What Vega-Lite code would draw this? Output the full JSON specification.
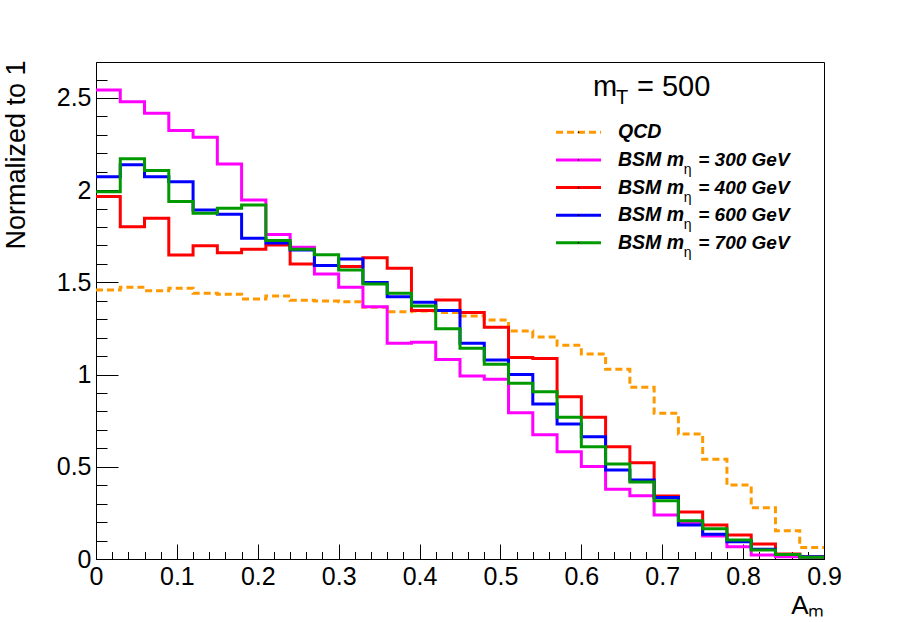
{
  "$schema": "https://vega.github.io/schema/vega-lite/v6.json",
  "width": 728,
  "height": 497,
  "autosize": {"type": "none"},
  "padding": {"left": 96, "top": 62, "right": 89, "bottom": 63},
  "background": "white",
  "config": {
    "view": {"stroke": "black", "strokeWidth": 1},
    "font": "Liberation Sans",
    "axis": {
      "grid": false,
      "domainColor": "black",
      "tickColor": "black",
      "labelColor": "black",
      "titleColor": "black",
      "labelFont": "Liberation Sans",
      "titleFont": "Liberation Sans",
      "titleFontWeight": "normal",
      "labelFontSize": 25,
      "titleFontSize": 26,
      "labelFlush": false,
      "labelOverlap": false
    }
  },
  "datasets": {
    "hist": [
      {"s": "QCD", "x": 0.00, "v": 1.459}, {"s": "QCD", "x": 0.03, "v": 1.473}, {"s": "QCD", "x": 0.06, "v": 1.455},
      {"s": "QCD", "x": 0.09, "v": 1.468}, {"s": "QCD", "x": 0.12, "v": 1.441}, {"s": "QCD", "x": 0.15, "v": 1.436},
      {"s": "QCD", "x": 0.18, "v": 1.410}, {"s": "QCD", "x": 0.21, "v": 1.426}, {"s": "QCD", "x": 0.24, "v": 1.403},
      {"s": "QCD", "x": 0.27, "v": 1.399}, {"s": "QCD", "x": 0.30, "v": 1.395}, {"s": "QCD", "x": 0.33, "v": 1.365},
      {"s": "QCD", "x": 0.36, "v": 1.341}, {"s": "QCD", "x": 0.39, "v": 1.345}, {"s": "QCD", "x": 0.42, "v": 1.336},
      {"s": "QCD", "x": 0.45, "v": 1.318}, {"s": "QCD", "x": 0.48, "v": 1.296}, {"s": "QCD", "x": 0.51, "v": 1.237},
      {"s": "QCD", "x": 0.54, "v": 1.204}, {"s": "QCD", "x": 0.57, "v": 1.159}, {"s": "QCD", "x": 0.60, "v": 1.112},
      {"s": "QCD", "x": 0.63, "v": 1.029}, {"s": "QCD", "x": 0.66, "v": 0.931}, {"s": "QCD", "x": 0.69, "v": 0.790},
      {"s": "QCD", "x": 0.72, "v": 0.678}, {"s": "QCD", "x": 0.75, "v": 0.541}, {"s": "QCD", "x": 0.78, "v": 0.401},
      {"s": "QCD", "x": 0.81, "v": 0.278}, {"s": "QCD", "x": 0.84, "v": 0.153}, {"s": "QCD", "x": 0.87, "v": 0.063},
      {"s": "QCD", "x": 0.90, "v": 0.063},

      {"s": "300", "x": 0.00, "v": 2.543}, {"s": "300", "x": 0.03, "v": 2.480}, {"s": "300", "x": 0.06, "v": 2.417},
      {"s": "300", "x": 0.09, "v": 2.323}, {"s": "300", "x": 0.12, "v": 2.287}, {"s": "300", "x": 0.15, "v": 2.142},
      {"s": "300", "x": 0.18, "v": 1.947}, {"s": "300", "x": 0.21, "v": 1.759}, {"s": "300", "x": 0.24, "v": 1.690},
      {"s": "300", "x": 0.27, "v": 1.546}, {"s": "300", "x": 0.30, "v": 1.473}, {"s": "300", "x": 0.33, "v": 1.368},
      {"s": "300", "x": 0.36, "v": 1.170}, {"s": "300", "x": 0.39, "v": 1.175}, {"s": "300", "x": 0.42, "v": 1.082},
      {"s": "300", "x": 0.45, "v": 0.992}, {"s": "300", "x": 0.48, "v": 0.975}, {"s": "300", "x": 0.51, "v": 0.793},
      {"s": "300", "x": 0.54, "v": 0.674}, {"s": "300", "x": 0.57, "v": 0.582}, {"s": "300", "x": 0.60, "v": 0.501},
      {"s": "300", "x": 0.63, "v": 0.378}, {"s": "300", "x": 0.66, "v": 0.343}, {"s": "300", "x": 0.69, "v": 0.239},
      {"s": "300", "x": 0.72, "v": 0.193}, {"s": "300", "x": 0.75, "v": 0.125}, {"s": "300", "x": 0.78, "v": 0.067},
      {"s": "300", "x": 0.81, "v": 0.022}, {"s": "300", "x": 0.84, "v": 0.012}, {"s": "300", "x": 0.87, "v": 0.009},
      {"s": "300", "x": 0.90, "v": 0.009},

      {"s": "400", "x": 0.00, "v": 1.965}, {"s": "400", "x": 0.03, "v": 1.802}, {"s": "400", "x": 0.06, "v": 1.848},
      {"s": "400", "x": 0.09, "v": 1.649}, {"s": "400", "x": 0.12, "v": 1.699}, {"s": "400", "x": 0.15, "v": 1.661},
      {"s": "400", "x": 0.18, "v": 1.680}, {"s": "400", "x": 0.21, "v": 1.703}, {"s": "400", "x": 0.24, "v": 1.600},
      {"s": "400", "x": 0.27, "v": 1.591}, {"s": "400", "x": 0.30, "v": 1.586}, {"s": "400", "x": 0.33, "v": 1.634},
      {"s": "400", "x": 0.36, "v": 1.576}, {"s": "400", "x": 0.39, "v": 1.347}, {"s": "400", "x": 0.42, "v": 1.405},
      {"s": "400", "x": 0.45, "v": 1.336}, {"s": "400", "x": 0.48, "v": 1.256}, {"s": "400", "x": 0.51, "v": 1.093},
      {"s": "400", "x": 0.54, "v": 1.087}, {"s": "400", "x": 0.57, "v": 0.880}, {"s": "400", "x": 0.60, "v": 0.768},
      {"s": "400", "x": 0.63, "v": 0.609}, {"s": "400", "x": 0.66, "v": 0.522}, {"s": "400", "x": 0.69, "v": 0.342},
      {"s": "400", "x": 0.72, "v": 0.255}, {"s": "400", "x": 0.75, "v": 0.184}, {"s": "400", "x": 0.78, "v": 0.130},
      {"s": "400", "x": 0.81, "v": 0.081}, {"s": "400", "x": 0.84, "v": 0.027}, {"s": "400", "x": 0.87, "v": 0.012},
      {"s": "400", "x": 0.90, "v": 0.012},

      {"s": "600", "x": 0.00, "v": 2.073}, {"s": "600", "x": 0.03, "v": 2.138}, {"s": "600", "x": 0.06, "v": 2.073},
      {"s": "600", "x": 0.09, "v": 2.046}, {"s": "600", "x": 0.12, "v": 1.893}, {"s": "600", "x": 0.15, "v": 1.869},
      {"s": "600", "x": 0.18, "v": 1.739}, {"s": "600", "x": 0.21, "v": 1.714}, {"s": "600", "x": 0.24, "v": 1.676},
      {"s": "600", "x": 0.27, "v": 1.591}, {"s": "600", "x": 0.30, "v": 1.627}, {"s": "600", "x": 0.33, "v": 1.500},
      {"s": "600", "x": 0.36, "v": 1.422}, {"s": "600", "x": 0.39, "v": 1.392}, {"s": "600", "x": 0.42, "v": 1.347},
      {"s": "600", "x": 0.45, "v": 1.170}, {"s": "600", "x": 0.48, "v": 1.079}, {"s": "600", "x": 0.51, "v": 1.000},
      {"s": "600", "x": 0.54, "v": 0.841}, {"s": "600", "x": 0.57, "v": 0.732}, {"s": "600", "x": 0.60, "v": 0.663},
      {"s": "600", "x": 0.63, "v": 0.483}, {"s": "600", "x": 0.66, "v": 0.428}, {"s": "600", "x": 0.69, "v": 0.334},
      {"s": "600", "x": 0.72, "v": 0.184}, {"s": "600", "x": 0.75, "v": 0.134}, {"s": "600", "x": 0.78, "v": 0.094},
      {"s": "600", "x": 0.81, "v": 0.053}, {"s": "600", "x": 0.84, "v": 0.025}, {"s": "600", "x": 0.87, "v": 0.012},
      {"s": "600", "x": 0.90, "v": 0.012},

      {"s": "700", "x": 0.00, "v": 1.992}, {"s": "700", "x": 0.03, "v": 2.171}, {"s": "700", "x": 0.06, "v": 2.106},
      {"s": "700", "x": 0.09, "v": 1.938}, {"s": "700", "x": 0.12, "v": 1.875}, {"s": "700", "x": 0.15, "v": 1.902},
      {"s": "700", "x": 0.18, "v": 1.920}, {"s": "700", "x": 0.21, "v": 1.727}, {"s": "700", "x": 0.24, "v": 1.680},
      {"s": "700", "x": 0.27, "v": 1.650}, {"s": "700", "x": 0.30, "v": 1.567}, {"s": "700", "x": 0.33, "v": 1.491},
      {"s": "700", "x": 0.36, "v": 1.441}, {"s": "700", "x": 0.39, "v": 1.372}, {"s": "700", "x": 0.42, "v": 1.248},
      {"s": "700", "x": 0.45, "v": 1.143}, {"s": "700", "x": 0.48, "v": 1.056}, {"s": "700", "x": 0.51, "v": 0.953},
      {"s": "700", "x": 0.54, "v": 0.907}, {"s": "700", "x": 0.57, "v": 0.768}, {"s": "700", "x": 0.60, "v": 0.609},
      {"s": "700", "x": 0.63, "v": 0.515}, {"s": "700", "x": 0.66, "v": 0.418}, {"s": "700", "x": 0.69, "v": 0.316},
      {"s": "700", "x": 0.72, "v": 0.208}, {"s": "700", "x": 0.75, "v": 0.164}, {"s": "700", "x": 0.78, "v": 0.103},
      {"s": "700", "x": 0.81, "v": 0.049}, {"s": "700", "x": 0.84, "v": 0.025}, {"s": "700", "x": 0.87, "v": 0.009},
      {"s": "700", "x": 0.90, "v": 0.009}
    ]
  },
  "resolve": {"axis": {"x": "independent", "y": "independent"}},
  "layer": [
    {
      "data": {"name": "hist"},
      "mark": {"type": "line", "interpolate": "step-after", "strokeWidth": 3},
      "encoding": {
        "x": {
          "field": "x", "type": "quantitative",
          "scale": {"domain": [0, 0.9], "nice": false, "zero": false},
          "axis": {
            "orient": "bottom",
            "values": [0, 0.1, 0.2, 0.3, 0.4, 0.5, 0.6, 0.7, 0.8, 0.9],
            "format": "~g",
            "tickSize": -15,
            "labelPadding": 20,
            "title": "Aₘ",
            "titleAnchor": "end",
            "titleAlign": "right",
            "titleBaseline": "alphabetic",
            "titleX": 728,
            "titleY": 54
          }
        },
        "y": {
          "field": "v", "type": "quantitative",
          "scale": {"domain": [0, 2.695], "nice": false, "zero": false},
          "axis": {
            "orient": "left",
            "values": [0, 0.5, 1, 1.5, 2, 2.5],
            "format": "~g",
            "tickSize": -22,
            "labelPadding": 27,
            "title": "Normalized to 1",
            "titleFontSize": 27,
            "titleAngle": 270,
            "titleAnchor": "end",
            "titleAlign": "right",
            "titleBaseline": "alphabetic",
            "titleX": -72,
            "titleY": -2
          }
        },
        "color": {
          "field": "s", "type": "nominal",
          "scale": {"domain": ["QCD", "300", "400", "600", "700"], "range": ["#ff9900", "#ff00ff", "#ff0000", "#0000ff", "#009900"]},
          "legend": null
        },
        "strokeDash": {
          "field": "s", "type": "nominal",
          "scale": {"domain": ["QCD", "300", "400", "600", "700"], "range": [[7, 4], [1, 0], [1, 0], [1, 0], [1, 0]]},
          "legend": null
        }
      }
    },
    {
      "data": {"name": "hist"},
      "mark": {"type": "line", "opacity": 0},
      "encoding": {
        "x": {
          "field": "x", "type": "quantitative",
          "axis": {
            "orient": "bottom",
            "values": [0.02, 0.04, 0.06, 0.08, 0.12, 0.14, 0.16, 0.18, 0.22, 0.24, 0.26, 0.28, 0.32, 0.34, 0.36, 0.38, 0.42, 0.44, 0.46, 0.48, 0.52, 0.54, 0.56, 0.58, 0.62, 0.64, 0.66, 0.68, 0.72, 0.74, 0.76, 0.78, 0.82, 0.84, 0.86, 0.88],
            "tickSize": -7.5,
            "labels": false,
            "domain": false,
            "title": null
          }
        },
        "y": {
          "field": "v", "type": "quantitative",
          "axis": {
            "orient": "left",
            "values": [0.1, 0.2, 0.3, 0.4, 0.6, 0.7, 0.8, 0.9, 1.1, 1.2, 1.3, 1.4, 1.6, 1.7, 1.8, 1.9, 2.1, 2.2, 2.3, 2.4, 2.6],
            "tickSize": -11,
            "labels": false,
            "domain": false,
            "title": null
          }
        }
      }
    },
    {
      "data": {"values": [{}]},
      "encoding": {"y": {"datum": 2.511, "type": "quantitative", "axis": null}},
      "layer": [
        {
          "mark": {"type": "text", "text": "m", "fontSize": 29, "align": "left", "baseline": "alphabetic", "color": "black"},
          "encoding": {"x": {"datum": 0.6144, "type": "quantitative", "axis": null}}
        },
        {
          "mark": {"type": "text", "text": "T", "fontSize": 20, "align": "left", "baseline": "alphabetic", "dy": 8, "color": "black"},
          "encoding": {"x": {"datum": 0.643, "type": "quantitative", "axis": null}}
        },
        {
          "mark": {"type": "text", "text": "= 500", "fontSize": 29, "align": "left", "baseline": "alphabetic", "color": "black"},
          "encoding": {"x": {"datum": 0.6688, "type": "quantitative", "axis": null}}
        }
      ]
    },
    {
      "data": {"values": [{}]},
      "encoding": {"y": {"datum": 2.314, "type": "quantitative", "axis": null}},
      "layer": [
        {
          "mark": {"type": "rule", "color": "#ff9900", "strokeWidth": 3, "strokeDash": [7, 4]},
          "encoding": {"x": {"datum": 0.5687, "type": "quantitative", "axis": null}, "x2": {"datum": 0.6243}}
        },
        {
          "mark": {"type": "square", "size": 2, "color": "black", "filled": true, "opacity": 1},
          "encoding": {"x": {"datum": 0.5965, "type": "quantitative", "axis": null}}
        },
        {
          "mark": {"type": "text", "text": "QCD", "fontSize": 19.5, "fontWeight": "bold", "fontStyle": "italic", "align": "left", "baseline": "middle", "color": "black"},
          "encoding": {"x": {"datum": 0.6453, "type": "quantitative", "axis": null}}
        }
      ]
    },
    {
      "data": {"values": [{}]},
      "encoding": {"y": {"datum": 2.164, "type": "quantitative", "axis": null}},
      "layer": [
        {
          "mark": {"type": "rule", "color": "#ff00ff", "strokeWidth": 3},
          "encoding": {"x": {"datum": 0.5687, "type": "quantitative", "axis": null}, "x2": {"datum": 0.6243}}
        },
        {
          "mark": {"type": "square", "size": 2, "color": "black", "filled": true, "opacity": 1},
          "encoding": {"x": {"datum": 0.5965, "type": "quantitative", "axis": null}}
        },
        {
          "mark": {"type": "text", "text": "BSM m", "fontSize": 19.5, "fontWeight": "bold", "fontStyle": "italic", "align": "left", "baseline": "middle", "color": "black"},
          "encoding": {"x": {"datum": 0.6453, "type": "quantitative", "axis": null}}
        },
        {
          "mark": {"type": "text", "text": "η", "fontSize": 14, "align": "left", "baseline": "middle", "dy": 10, "color": "black"},
          "encoding": {"x": {"datum": 0.7265, "type": "quantitative", "axis": null}}
        },
        {
          "mark": {"type": "text", "text": "= 300 GeV", "fontSize": 19, "fontWeight": "bold", "fontStyle": "italic", "align": "left", "baseline": "middle", "color": "black"},
          "encoding": {"x": {"datum": 0.7445, "type": "quantitative", "axis": null}}
        }
      ]
    },
    {
      "data": {"values": [{}]},
      "encoding": {"y": {"datum": 2.014, "type": "quantitative", "axis": null}},
      "layer": [
        {
          "mark": {"type": "rule", "color": "#ff0000", "strokeWidth": 3},
          "encoding": {"x": {"datum": 0.5687, "type": "quantitative", "axis": null}, "x2": {"datum": 0.6243}}
        },
        {
          "mark": {"type": "square", "size": 2, "color": "black", "filled": true, "opacity": 1},
          "encoding": {"x": {"datum": 0.5965, "type": "quantitative", "axis": null}}
        },
        {
          "mark": {"type": "text", "text": "BSM m", "fontSize": 19.5, "fontWeight": "bold", "fontStyle": "italic", "align": "left", "baseline": "middle", "color": "black"},
          "encoding": {"x": {"datum": 0.6453, "type": "quantitative", "axis": null}}
        },
        {
          "mark": {"type": "text", "text": "η", "fontSize": 14, "align": "left", "baseline": "middle", "dy": 10, "color": "black"},
          "encoding": {"x": {"datum": 0.7265, "type": "quantitative", "axis": null}}
        },
        {
          "mark": {"type": "text", "text": "= 400 GeV", "fontSize": 19, "fontWeight": "bold", "fontStyle": "italic", "align": "left", "baseline": "middle", "color": "black"},
          "encoding": {"x": {"datum": 0.7445, "type": "quantitative", "axis": null}}
        }
      ]
    },
    {
      "data": {"values": [{}]},
      "encoding": {"y": {"datum": 1.864, "type": "quantitative", "axis": null}},
      "layer": [
        {
          "mark": {"type": "rule", "color": "#0000ff", "strokeWidth": 3},
          "encoding": {"x": {"datum": 0.5687, "type": "quantitative", "axis": null}, "x2": {"datum": 0.6243}}
        },
        {
          "mark": {"type": "square", "size": 2, "color": "black", "filled": true, "opacity": 1},
          "encoding": {"x": {"datum": 0.5965, "type": "quantitative", "axis": null}}
        },
        {
          "mark": {"type": "text", "text": "BSM m", "fontSize": 19.5, "fontWeight": "bold", "fontStyle": "italic", "align": "left", "baseline": "middle", "color": "black"},
          "encoding": {"x": {"datum": 0.6453, "type": "quantitative", "axis": null}}
        },
        {
          "mark": {"type": "text", "text": "η", "fontSize": 14, "align": "left", "baseline": "middle", "dy": 10, "color": "black"},
          "encoding": {"x": {"datum": 0.7265, "type": "quantitative", "axis": null}}
        },
        {
          "mark": {"type": "text", "text": "= 600 GeV", "fontSize": 19, "fontWeight": "bold", "fontStyle": "italic", "align": "left", "baseline": "middle", "color": "black"},
          "encoding": {"x": {"datum": 0.7445, "type": "quantitative", "axis": null}}
        }
      ]
    },
    {
      "data": {"values": [{}]},
      "encoding": {"y": {"datum": 1.715, "type": "quantitative", "axis": null}},
      "layer": [
        {
          "mark": {"type": "rule", "color": "#009900", "strokeWidth": 3},
          "encoding": {"x": {"datum": 0.5687, "type": "quantitative", "axis": null}, "x2": {"datum": 0.6243}}
        },
        {
          "mark": {"type": "square", "size": 2, "color": "black", "filled": true, "opacity": 1},
          "encoding": {"x": {"datum": 0.5965, "type": "quantitative", "axis": null}}
        },
        {
          "mark": {"type": "text", "text": "BSM m", "fontSize": 19.5, "fontWeight": "bold", "fontStyle": "italic", "align": "left", "baseline": "middle", "color": "black"},
          "encoding": {"x": {"datum": 0.6453, "type": "quantitative", "axis": null}}
        },
        {
          "mark": {"type": "text", "text": "η", "fontSize": 14, "align": "left", "baseline": "middle", "dy": 10, "color": "black"},
          "encoding": {"x": {"datum": 0.7265, "type": "quantitative", "axis": null}}
        },
        {
          "mark": {"type": "text", "text": "= 700 GeV", "fontSize": 19, "fontWeight": "bold", "fontStyle": "italic", "align": "left", "baseline": "middle", "color": "black"},
          "encoding": {"x": {"datum": 0.7445, "type": "quantitative", "axis": null}}
        }
      ]
    }
  ]
}
